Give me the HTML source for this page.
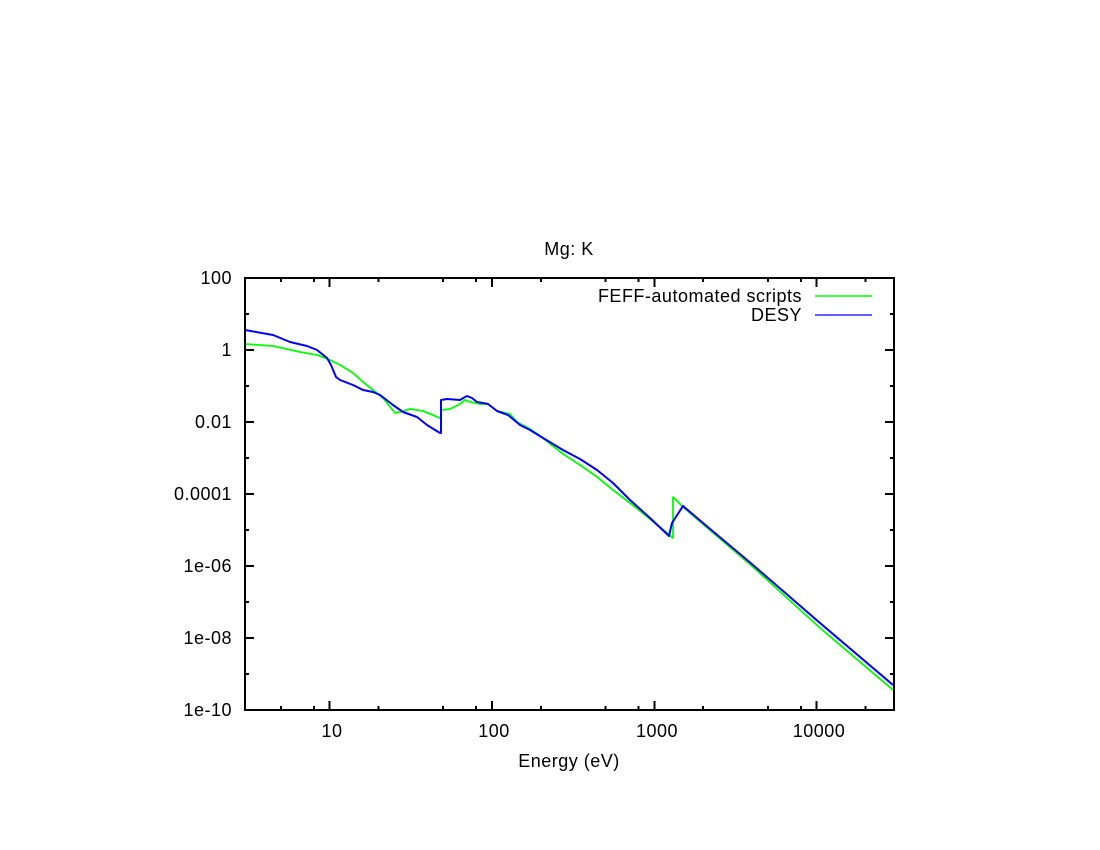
<!DOCTYPE html>
<html><head><meta charset="utf-8"><style>
html,body{margin:0;padding:0;background:#fff;}
svg{display:block;}
text{font-family:"Liberation Sans",Arial,sans-serif;font-size:18px;letter-spacing:0.5px;fill:#000;}
</style></head><body>
<svg width="1100" height="850" viewBox="0 0 1100 850" xmlns="http://www.w3.org/2000/svg">
<rect width="1100" height="850" fill="#fff"/>
<!-- data -->
<polyline fill="none" stroke="#00ff00" stroke-width="1.8" stroke-linejoin="round" points="245,344 273,346 300,352 317,355 328,359 340,365 353,373 363,382 373,390 383,398 395,413 400,412 410,409 423,411 440,418 441,418 441,410 450,409 460,404 465,400 470,402 480,404 488,404 497,411 510,414 517,422 530,429 543,438 563,454 580,465 597,477 613,490 630,503 650,519 673,538 673,497 675,499 683,507 753,567 820,628 893,690"/>
<polyline fill="none" stroke="#0000ff" stroke-width="2" stroke-linejoin="round" points="245,330 273,335 290,342 307,346 317,350 327,358 331,365 336,377 340,380 353,385 363,390 373,392 380,395 393,405 403,412 417,417 427,425 440,433 441,433 441,400 447,399 460,400 465,397 467,396 472,398 477,402 483,403 488,404 497,411 508,415 520,425 530,430 543,438 563,450 580,459 597,470 613,483 630,500 650,518 669,536 672,523 683,506 703,523 753,565 820,623 893,685"/>
<!-- axes box -->
<rect x="245" y="278" width="649" height="432" fill="none" stroke="#000" stroke-width="2"/>
<!-- ticks -->
<g stroke="#000" stroke-width="2">
<path d="M245,278h9M894,278h-9M245,350h9M894,350h-9M245,422h9M894,422h-9M245,494h9M894,494h-9M245,566h9M894,566h-9M245,638h9M894,638h-9M245,710h9M894,710h-9"/>
<path d="M245,314h4M894,314h-4M245,386h4M894,386h-4M245,458h4M894,458h-4M245,530h4M894,530h-4M245,602h4M894,602h-4M245,674h4M894,674h-4"/>
<path d="M329.5,710v-9M329.5,278v9M492,710v-9M492,278v9M654.5,710v-9M654.5,278v9M816.5,710v-9M816.5,278v9"/>
<path d="M281,710v-4M281,278v4M314,710v-4M314,278v4M378.5,710v-4M378.5,278v4M443,710v-4M443,278v4M476,710v-4M476,278v4M541,710v-4M541,278v4M605.5,710v-4M605.5,278v4M638.5,710v-4M638.5,278v4M703,710v-4M703,278v4M768,710v-4M768,278v4M801,710v-4M801,278v4M865.5,710v-4M865.5,278v4"/>
</g>
<!-- y labels -->
<g text-anchor="end">
<text x="232" y="284">100</text>
<text x="232" y="356">1</text>
<text x="232" y="428">0.01</text>
<text x="232" y="500">0.0001</text>
<text x="232" y="572">1e-06</text>
<text x="232" y="644">1e-08</text>
<text x="232" y="716">1e-10</text>
</g>
<!-- x labels -->
<g text-anchor="middle">
<text x="332" y="737">10</text>
<text x="494" y="737">100</text>
<text x="657" y="737">1000</text>
<text x="819" y="737">10000</text>
<text x="569" y="767">Energy (eV)</text>
<text x="569" y="255">Mg: K</text>
</g>
<!-- legend -->
<text x="802" y="302" text-anchor="end">FEFF-automated scripts</text>
<text x="802" y="321" text-anchor="end">DESY</text>
<line x1="815" y1="296" x2="872" y2="296" stroke="#00ff00" stroke-width="1.6"/>
<line x1="815" y1="315" x2="872" y2="315" stroke="#0000ff" stroke-width="1.3"/>
</svg>
</body></html>
